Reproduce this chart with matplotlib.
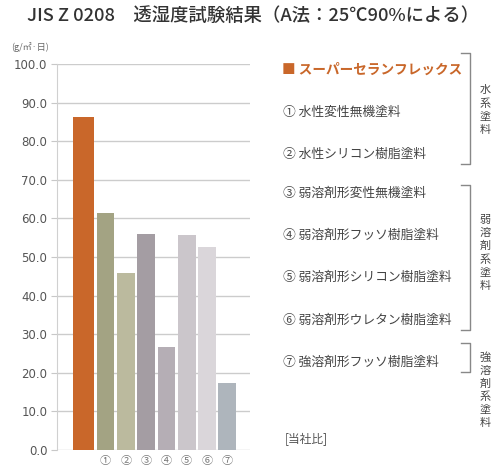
import numpy as np
import matplotlib
matplotlib.use('Agg')
import matplotlib.pyplot as plt

plt.rcParams['font.family'] = ['Noto Sans CJK JP', 'DejaVu Sans']

# data
labels = ['', '①', '②', '③', '④', '⑤', '⑥', '⑦']
values = [86.2, 61.3, 45.8, 56.0, 26.6, 55.6, 52.6, 17.4]
colors = ['#C9672A', '#A3A383', '#BBBA9E', '#A49DA3', '#B5AEB5', '#CBC6CB', '#DAD6DA', '#AEB5BC']
widths = [1.07, 0.87, 0.87, 0.87, 0.87, 0.87, 0.87, 0.87]
yticks = np.arange(0, 101, 10)

brand = 'スーパーセランフレックス'
items = ['① 水性変性無機塗料', '② 水性シリコン樹脂塗料', '③ 弱溶剤形変性無機塗料',
         '④ 弱溶剤形フッソ樹脂塗料', '⑤ 弱溶剤形シリコン樹脂塗料',
         '⑥ 弱溶剤形ウレタン樹脂塗料', '⑦ 強溶剤形フッソ樹脂塗料']
groups = ['水系塗料', '弱溶剤系塗料', '強溶剤系塗料']

W, H = 494, 471
fig = plt.figure(figsize=(W / 100, H / 100), dpi=100)

def px(x, y):
    # pixel coords of the reference -> figure fraction
    return x / W, 1 - y / H

# axes: x 57..250 px, y 64..450 px
ax = fig.add_axes([57 / W, 1 - 450 / H, (250 - 57) / W, (450 - 64) / H])
x = np.arange(len(values), dtype=float)
x[0] -= 0.08
ax.bar(x, values, width=widths, color=colors, zorder=3)
ax.set_xlim(-1.39, 8.12)
ax.set_ylim(0, 100)
ax.set_yticks(yticks)
ax.set_yticklabels([f'{v:.1f}' for v in yticks], fontsize=8.5, color='#555555',
                   family=['Liberation Sans Narrow', 'DejaVu Sans'])
ax.set_xticks(np.arange(len(values)))
ax.set_xticklabels(labels, fontsize=8, color='#777777')
ax.tick_params(axis='y', length=4, color='#c8c8c8', pad=3)
ax.tick_params(axis='x', length=0, pad=4)
ax.grid(axis='y', color='#cccccc', linewidth=1, zorder=0)
for s in ['top', 'right', 'bottom']:
    ax.spines[s].set_visible(False)
ax.spines['left'].set_color('#d0d0d0')
ax.patch.set_alpha(0)

# title and unit
fig.text(*px(27, 16), 'JIS Z 0208　透湿度試験結果（A法：25℃90%による）',
         fontsize=13.2, color='#333333', va='center', ha='left', fontweight='medium')
fig.text(*px(11, 47), '(g/㎡·日)', fontsize=6.5, color='#666666', va='center', ha='left')

# legend block on the right
fig.text(*px(282, 70), '■ ' + brand, fontsize=9.8, fontweight='bold',
         color='#C9672A', va='center', ha='left')
item_y = [112, 154, 193, 235, 277, 320, 362]
for t, yy in zip(items, item_y):
    fig.text(*px(283, yy), t, fontsize=9.2, color='#444444', va='center', ha='left')
fig.text(*px(285, 440), '[当社比]', fontsize=8.5, color='#555555', va='center', ha='left')

# brackets with vertical group labels
brackets = [(53, 164), (185, 330), (343, 372)]
label_mid = [110, 253, 390]
for (y0, y1), g, ym in zip(brackets, groups, label_mid):
    xs = [461 / W, 470 / W, 470 / W, 461 / W]
    ys = [1 - y0 / H, 1 - y0 / H, 1 - y1 / H, 1 - y1 / H]
    fig.add_artist(plt.Line2D(xs, ys, color='#888888', linewidth=1))
    fig.text(*px(485, ym), '\n'.join(g), fontsize=8, color='#444444',
             va='center', ha='center', linespacing=1.35)

fig.savefig('out.png', dpi=100)
